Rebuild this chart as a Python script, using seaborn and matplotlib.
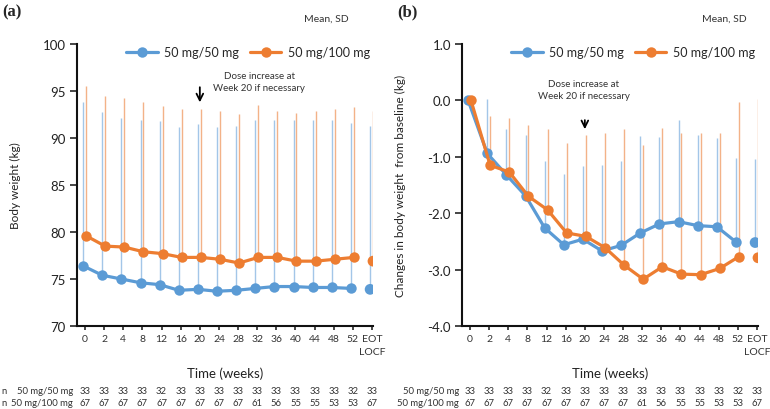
import numpy as np
import pandas as pd
import seaborn as sns
import matplotlib.pyplot as plt
from matplotlib.lines import Line2D
from matplotlib.transforms import blended_transform_factory

sns.set_style("ticks")
plt.rcParams['font.family'] = ['Lato', 'DejaVu Sans']
plt.rcParams['axes.unicode_minus'] = False

# time points
weeks = ["0", "2", "4", "8", "12", "16", "20", "24", "28", "32", "36", "40", "44", "48", "52", "EOT\nLOCF"]
groups = ["50 mg/50 mg", "50 mg/100 mg"]

# (a) body weight, mean and SD
bw_5050 = [76.4, 75.4, 75.0, 74.6, 74.4, 73.8, 73.9, 73.7, 73.8, 74.0, 74.2, 74.2, 74.1, 74.1, 74.0, 73.9]
bw_5050_sd = [17.4, 17.4, 17.1, 17.3, 17.4, 17.4, 17.6, 17.5, 17.5, 17.9, 17.7, 17.7, 17.8, 17.8, 17.6, 17.4]
bw_50100 = [79.6, 78.5, 78.4, 77.9, 77.7, 77.3, 77.3, 77.1, 76.7, 77.3, 77.3, 76.9, 76.9, 77.1, 77.3, 76.9]
bw_50100_sd = [15.9, 16.0, 15.9, 15.9, 15.7, 15.8, 15.8, 15.8, 15.9, 16.2, 15.6, 15.8, 16.0, 16.0, 16.0, 16.0]

# (b) change from baseline, mean and SD
chg_5050 = [0.0, -0.94, -1.32, -1.69, -2.26, -2.56, -2.46, -2.67, -2.57, -2.35, -2.19, -2.15, -2.22, -2.24, -2.51, -2.52]
chg_5050_sd = [0.0, 0.96, 0.82, 1.08, 1.18, 1.26, 1.30, 1.52, 1.50, 1.72, 1.54, 1.81, 1.60, 1.57, 1.49, 1.48]
chg_50100 = [0.0, -1.15, -1.27, -1.70, -1.94, -2.35, -2.41, -2.61, -2.92, -3.17, -2.95, -3.08, -3.09, -2.98, -2.77, -2.79]
chg_50100_sd = [0.0, 0.87, 0.96, 1.27, 1.44, 1.59, 1.79, 2.04, 2.42, 2.38, 2.46, 2.51, 2.52, 2.41, 2.75, 2.81]

# number of patients
n_5050 = [33, 33, 33, 33, 32, 33, 33, 33, 33, 33, 33, 33, 33, 33, 32, 33]
n_50100 = [67, 67, 67, 67, 67, 67, 67, 67, 67, 61, 56, 55, 55, 53, 53, 67]

colors = {"50 mg/50 mg": "#5B9BD5", "50 mg/100 mg": "#ED7D31"}
bar_colors = {"50 mg/50 mg": "#A3C6E8", "50 mg/100 mg": "#F3B288"}
offsets = {"50 mg/50 mg": -0.1, "50 mg/100 mg": 0.05}


def make_df(m1, s1, m2, s2):
    rows = []
    for g, m, s in [(groups[0], m1, s1), (groups[1], m2, s2)]:
        for i in range(len(weeks)):
            rows.append({"group": g, "idx": i, "pos": i + offsets[g], "mean": m[i], "sd": s[i]})
    return pd.DataFrame(rows)


fig = plt.figure(figsize=(7.7, 4.1), dpi=100)
ax_a = fig.add_axes([0.100, 0.2024, 0.3844, 0.6878])
ax_b = fig.add_axes([0.600, 0.2024, 0.3844, 0.6878])

panels = [
    (ax_a, make_df(bw_5050, bw_5050_sd, bw_50100, bw_50100_sd), (70, 100), [70, 75, 80, 85, 90, 95, 100],
     ["70", "75", "80", "85", "90", "95", "100"], "Body weight (kg)"),
    (ax_b, make_df(chg_5050, chg_5050_sd, chg_50100, chg_50100_sd), (-4, 1), [-4, -3, -2, -1, 0, 1],
     ["-4.0", "-3.0", "-2.0", "-1.0", "0.0", "1.0"], "Changes in body weight  from baseline (kg)"),
]

for ax, df, ylim, yt, ytl, ylab in panels:
    # SD bars (upper only)
    for g in groups:
        d = df[df.group == g]
        ax.vlines(d["pos"], d["mean"], d["mean"] + d["sd"], color=bar_colors[g], lw=1.0, zorder=1)
    main = df[df.idx < len(weeks) - 1]
    eot = df[df.idx == len(weeks) - 1]
    sns.lineplot(data=main, x="pos", y="mean", hue="group", palette=colors, marker="o",
                 markersize=7.5, markeredgewidth=0, lw=2.3, legend=False, ax=ax, zorder=3,
                 estimator=None, sort=True)
    sns.scatterplot(data=eot, x="pos", y="mean", hue="group", palette=colors, s=60,
                    linewidth=0, legend=False, ax=ax, zorder=3)
    ax.set_xlim(-0.42, 15.05)
    ax.set_ylim(*ylim)
    ax.set_xticks(range(len(weeks)))
    ax.set_xticklabels(weeks, fontsize=7.5, color="#333333", linespacing=1.5)
    ax.set_yticks(yt)
    ax.set_yticklabels(ytl, fontsize=9.5, color="#222222")
    ax.tick_params(axis="x", length=3, width=1.2, pad=3)
    ax.tick_params(axis="y", length=5, width=1.2, pad=3)
    sns.despine(ax=ax)
    for sp in ["left", "bottom"]:
        ax.spines[sp].set_linewidth(1.5)
        ax.spines[sp].set_color("#111111")
    ax.set_xlabel("Time (weeks)", fontsize=9.5, color="#222222")
    ax.xaxis.set_label_coords(0.5, -0.145)
    ax.set_ylabel(ylab, fontsize=8.5, color="#222222")
    ax.yaxis.set_label_coords(-0.19, 0.5)
    handles = [Line2D([], [], color=colors[g], lw=2.3, marker="o", markersize=7.5, markeredgewidth=0) for g in groups]
    ax.legend(handles, groups, loc="center", bbox_to_anchor=(0.578, 0.972), ncol=2, frameon=False,
              fontsize=9, handlelength=2.5, columnspacing=0.9, handletextpad=0.5, borderaxespad=0)

    # n table
    tr = blended_transform_factory(ax.transData, fig.transFigure)
    for i in range(len(weeks)):
        ax.text(i, 0.046, str(n_5050[i]), transform=tr, ha="center", va="center", fontsize=6.8, color="#333333")
        ax.text(i, 0.017, str(n_50100[i]), transform=tr, ha="center", va="center", fontsize=6.8, color="#333333")

# annotations
ax_a.text(9.1, 96.0, "Dose increase at\nWeek 20 if necessary", ha="center", va="center", fontsize=7, color="#333333",
          linespacing=1.4)
ax_a.annotate("", xy=(6, 93.5), xytext=(6, 95.7),
              arrowprops=dict(arrowstyle="->", color="black", lw=1.3, mutation_scale=12))
ax_b.text(5.95, 0.19, "Dose increase at\nWeek 20 if necessary", ha="center", va="center", fontsize=7, color="#333333",
          linespacing=1.4)
ax_b.annotate("", xy=(6, -0.56), xytext=(6, -0.3),
              arrowprops=dict(arrowstyle="->", color="black", lw=1.3, mutation_scale=12))

# panel labels and notes
fig.text(2 / 770, 1 - 12 / 410, "(a)", fontsize=12, fontweight="bold", family="Liberation Serif", va="center")
fig.text(397 / 770, 1 - 12 / 410, "(b)", fontsize=12, fontweight="bold", family="Liberation Serif", va="center")
fig.text(326 / 770, 1 - 19 / 410, "Mean, SD", fontsize=7.5, ha="center", va="center", color="#333333")
fig.text(724 / 770, 1 - 19 / 410, "Mean, SD", fontsize=7.5, ha="center", va="center", color="#333333")

# row labels of n table
fig.text(4 / 770, 0.046, "n", fontsize=6.8, ha="center", va="center", color="#333333")
fig.text(4 / 770, 0.017, "n", fontsize=6.8, ha="center", va="center", color="#333333")
fig.text(73 / 770, 0.046, "50 mg/50 mg", fontsize=6.8, ha="right", va="center", color="#333333")
fig.text(73 / 770, 0.017, "50 mg/100 mg", fontsize=6.8, ha="right", va="center", color="#333333")
fig.text(459 / 770, 0.046, "50 mg/50 mg", fontsize=6.8, ha="right", va="center", color="#333333")
fig.text(459 / 770, 0.017, "50 mg/100 mg", fontsize=6.8, ha="right", va="center", color="#333333")

fig.savefig("out.png", dpi=100)
